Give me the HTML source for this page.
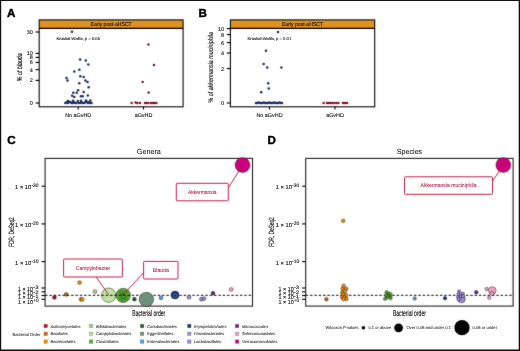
<!DOCTYPE html>
<html><head><meta charset="utf-8"><title>Figure</title>
<style>
html,body{margin:0;padding:0;background:#fff;}
body{width:520px;height:351px;overflow:hidden;font-family:"Liberation Sans",sans-serif;}
svg{display:block;font-family:"Liberation Sans",sans-serif;text-rendering:geometricPrecision;opacity:0.999;}
text{stroke:#222;stroke-width:0.12px}
.cr{stroke:#bd1f4a;stroke-width:0.08px}
.b{font-weight:bold;stroke:#000;stroke-width:0.45px}
.lg{stroke-width:0.05px}
.ax{stroke:#111;stroke-width:0.15px}
.ax2{stroke:#111;stroke-width:0.15px}
.i{font-style:italic}
</style></head><body>
<svg width="520" height="351" viewBox="0 0 520 351">
<defs><filter id="soft" color-interpolation-filters="sRGB" x="0" y="0" width="520" height="351" filterUnits="userSpaceOnUse"><feConvolveMatrix order="3" kernelMatrix="0.0100 0.0800 0.0100 0.0800 0.6400 0.0800 0.0100 0.0800 0.0100" divisor="1" edgeMode="duplicate" preserveAlpha="true"/></filter><filter id="txt" color-interpolation-filters="sRGB" x="0" y="0" width="520" height="351" filterUnits="userSpaceOnUse"><feConvolveMatrix order="3" kernelMatrix="0.0016 0.0368 0.0016 0.0368 0.8464 0.0368 0.0016 0.0368 0.0016" divisor="1" edgeMode="duplicate" preserveAlpha="true"/></filter></defs>
<rect x="0" y="0" width="520" height="351" fill="#fff"/>
<g filter="url(#soft)">
<rect x="0" y="0" width="520" height="351" fill="#fff"/>





<rect x="39.2" y="19.9" width="143.89999999999998" height="8.100000000000001" fill="#df9121"/>
<rect x="39.2" y="19.9" width="143.89999999999998" height="86.9" fill="none" stroke="#111" stroke-width="1.15"/>
<line x1="39.2" x2="183.1" y1="28.4" y2="28.4" stroke="#000" stroke-width="1.1"/>

<line x1="35.6" x2="39.2" y1="32" y2="32" stroke="#000" stroke-width="1.15"/>

<line x1="35.6" x2="39.2" y1="53.4" y2="53.4" stroke="#000" stroke-width="1.15"/>

<line x1="35.6" x2="39.2" y1="57.4" y2="57.4" stroke="#000" stroke-width="1.15"/>

<line x1="35.6" x2="39.2" y1="62.4" y2="62.4" stroke="#000" stroke-width="1.15"/>

<line x1="35.6" x2="39.2" y1="69.6" y2="69.6" stroke="#000" stroke-width="1.15"/>

<line x1="35.6" x2="39.2" y1="80.4" y2="80.4" stroke="#000" stroke-width="1.15"/>

<line x1="35.6" x2="39.2" y1="103" y2="103" stroke="#000" stroke-width="1.15"/>

<line x1="78.2" x2="78.2" y1="106.8" y2="109.6" stroke="#000" stroke-width="1.1"/>

<line x1="143.5" x2="143.5" y1="106.8" y2="109.6" stroke="#000" stroke-width="1.1"/>



<circle cx="72.0" cy="31.8" r="1.25" fill="#1d2b5e"/>
<circle cx="80.1" cy="59.4" r="1.25" fill="#1d2b5e"/>
<circle cx="85.8" cy="60.6" r="1.25" fill="#1d2b5e"/>
<circle cx="88.3" cy="64.5" r="1.25" fill="#1d2b5e"/>
<circle cx="79.4" cy="69.7" r="1.25" fill="#1d2b5e"/>
<circle cx="74.3" cy="71.4" r="1.25" fill="#1d2b5e"/>
<circle cx="80.3" cy="76.2" r="1.25" fill="#1d2b5e"/>
<circle cx="83.7" cy="77.0" r="1.25" fill="#1d2b5e"/>
<circle cx="66.5" cy="77.9" r="1.25" fill="#1d2b5e"/>
<circle cx="67.5" cy="80.4" r="1.25" fill="#1d2b5e"/>
<circle cx="85.4" cy="80.4" r="1.25" fill="#1d2b5e"/>
<circle cx="87.5" cy="82.0" r="1.25" fill="#1d2b5e"/>
<circle cx="79.3" cy="83.2" r="1.25" fill="#1d2b5e"/>
<circle cx="88.7" cy="87.3" r="1.25" fill="#1d2b5e"/>
<circle cx="78.1" cy="90.2" r="1.25" fill="#1d2b5e"/>
<circle cx="73.3" cy="92.7" r="1.25" fill="#1d2b5e"/>
<circle cx="76.7" cy="92.7" r="1.25" fill="#1d2b5e"/>
<circle cx="83.7" cy="92.0" r="1.25" fill="#1d2b5e"/>
<circle cx="72.1" cy="95.8" r="1.25" fill="#1d2b5e"/>
<circle cx="74.3" cy="97.0" r="1.25" fill="#1d2b5e"/>
<circle cx="81.0" cy="96.2" r="1.25" fill="#1d2b5e"/>
<circle cx="82.7" cy="96.2" r="1.25" fill="#1d2b5e"/>
<circle cx="87.8" cy="95.5" r="1.25" fill="#1d2b5e"/>
<circle cx="68.0" cy="101.0" r="1.25" fill="#1d2b5e"/>
<circle cx="73.0" cy="100.8" r="1.25" fill="#1d2b5e"/>
<circle cx="81.0" cy="100.8" r="1.25" fill="#1d2b5e"/>
<circle cx="86.0" cy="100.6" r="1.25" fill="#1d2b5e"/>
<circle cx="90.4" cy="100.6" r="1.25" fill="#1d2b5e"/>
<circle cx="65.3" cy="102.9" r="1.25" fill="#1d2b5e"/>
<circle cx="66.5" cy="102.2" r="1.25" fill="#1d2b5e"/>
<circle cx="67.8" cy="102.9" r="1.25" fill="#1d2b5e"/>
<circle cx="69.0" cy="101.7" r="1.25" fill="#1d2b5e"/>
<circle cx="70.3" cy="102.2" r="1.25" fill="#1d2b5e"/>
<circle cx="71.5" cy="102.9" r="1.25" fill="#1d2b5e"/>
<circle cx="72.8" cy="102.9" r="1.25" fill="#1d2b5e"/>
<circle cx="74.0" cy="102.2" r="1.25" fill="#1d2b5e"/>
<circle cx="75.3" cy="102.9" r="1.25" fill="#1d2b5e"/>
<circle cx="76.5" cy="102.9" r="1.25" fill="#1d2b5e"/>
<circle cx="77.8" cy="101.0" r="1.25" fill="#1d2b5e"/>
<circle cx="79.0" cy="102.9" r="1.25" fill="#1d2b5e"/>
<circle cx="80.3" cy="102.9" r="1.25" fill="#1d2b5e"/>
<circle cx="81.5" cy="102.2" r="1.25" fill="#1d2b5e"/>
<circle cx="82.8" cy="102.9" r="1.25" fill="#1d2b5e"/>
<circle cx="84.0" cy="102.9" r="1.25" fill="#1d2b5e"/>
<circle cx="85.3" cy="102.2" r="1.25" fill="#1d2b5e"/>
<circle cx="86.5" cy="101.7" r="1.25" fill="#1d2b5e"/>
<circle cx="87.8" cy="102.9" r="1.25" fill="#1d2b5e"/>
<circle cx="89.0" cy="102.2" r="1.25" fill="#1d2b5e"/>
<circle cx="90.3" cy="102.9" r="1.25" fill="#1d2b5e"/>
<circle cx="91.5" cy="102.9" r="1.25" fill="#1d2b5e"/>
<circle cx="148.4" cy="44.4" r="1.25" fill="#7b1522"/>
<circle cx="154.0" cy="65.0" r="1.25" fill="#7b1522"/>
<circle cx="142.6" cy="82.0" r="1.25" fill="#7b1522"/>
<circle cx="148.6" cy="92.4" r="1.25" fill="#7b1522"/>
<circle cx="131.6" cy="103.0" r="1.25" fill="#7b1522"/>
<circle cx="135.6" cy="102.4" r="1.25" fill="#7b1522"/>
<circle cx="137.4" cy="103.0" r="1.25" fill="#7b1522"/>
<circle cx="140.0" cy="103.0" r="1.25" fill="#7b1522"/>
<circle cx="145.0" cy="103.0" r="1.25" fill="#7b1522"/>
<circle cx="146.6" cy="103.0" r="1.25" fill="#7b1522"/>
<circle cx="148.4" cy="103.0" r="1.25" fill="#7b1522"/>
<circle cx="151.0" cy="103.0" r="1.25" fill="#7b1522"/>
<circle cx="153.0" cy="103.0" r="1.25" fill="#7b1522"/>
<circle cx="154.6" cy="103.0" r="1.25" fill="#7b1522"/>
<circle cx="156.4" cy="103.0" r="1.25" fill="#7b1522"/>
<rect x="230.4" y="19.9" width="144.29999999999998" height="8.100000000000001" fill="#df9121"/>
<rect x="230.4" y="19.9" width="144.29999999999998" height="86.9" fill="none" stroke="#111" stroke-width="1.15"/>
<line x1="230.4" x2="374.7" y1="28.4" y2="28.4" stroke="#000" stroke-width="1.1"/>

<line x1="226.8" x2="230.4" y1="28.6" y2="28.6" stroke="#000" stroke-width="1.15"/>

<line x1="226.8" x2="230.4" y1="34.6" y2="34.6" stroke="#000" stroke-width="1.15"/>

<line x1="226.8" x2="230.4" y1="42.6" y2="42.6" stroke="#000" stroke-width="1.15"/>

<line x1="226.8" x2="230.4" y1="53" y2="53" stroke="#000" stroke-width="1.15"/>

<line x1="226.8" x2="230.4" y1="68.6" y2="68.6" stroke="#000" stroke-width="1.15"/>

<line x1="226.8" x2="230.4" y1="103" y2="103" stroke="#000" stroke-width="1.15"/>

<line x1="269.5" x2="269.5" y1="106.8" y2="109.6" stroke="#000" stroke-width="1.1"/>

<line x1="335" x2="335" y1="106.8" y2="109.6" stroke="#000" stroke-width="1.1"/>



<circle cx="278.0" cy="32.0" r="1.25" fill="#1d2b5e"/>
<circle cx="266.0" cy="50.8" r="1.25" fill="#1d2b5e"/>
<circle cx="263.6" cy="64.0" r="1.25" fill="#1d2b5e"/>
<circle cx="267.2" cy="67.4" r="1.25" fill="#1d2b5e"/>
<circle cx="281.4" cy="67.4" r="1.25" fill="#1d2b5e"/>
<circle cx="268.2" cy="83.2" r="1.25" fill="#1d2b5e"/>
<circle cx="268.8" cy="88.4" r="1.25" fill="#1d2b5e"/>
<circle cx="261.2" cy="92.2" r="1.25" fill="#1d2b5e"/>
<circle cx="256.0" cy="103.0" r="1.25" fill="#1d2b5e"/>
<circle cx="257.3" cy="103.0" r="1.25" fill="#1d2b5e"/>
<circle cx="258.6" cy="102.4" r="1.25" fill="#1d2b5e"/>
<circle cx="259.9" cy="103.0" r="1.25" fill="#1d2b5e"/>
<circle cx="261.2" cy="103.0" r="1.25" fill="#1d2b5e"/>
<circle cx="262.5" cy="103.0" r="1.25" fill="#1d2b5e"/>
<circle cx="263.8" cy="102.4" r="1.25" fill="#1d2b5e"/>
<circle cx="265.1" cy="103.0" r="1.25" fill="#1d2b5e"/>
<circle cx="266.4" cy="103.0" r="1.25" fill="#1d2b5e"/>
<circle cx="267.7" cy="103.0" r="1.25" fill="#1d2b5e"/>
<circle cx="269.0" cy="102.4" r="1.25" fill="#1d2b5e"/>
<circle cx="270.3" cy="103.0" r="1.25" fill="#1d2b5e"/>
<circle cx="271.6" cy="103.0" r="1.25" fill="#1d2b5e"/>
<circle cx="272.9" cy="103.0" r="1.25" fill="#1d2b5e"/>
<circle cx="274.2" cy="102.4" r="1.25" fill="#1d2b5e"/>
<circle cx="275.5" cy="103.0" r="1.25" fill="#1d2b5e"/>
<circle cx="276.8" cy="103.0" r="1.25" fill="#1d2b5e"/>
<circle cx="278.1" cy="103.0" r="1.25" fill="#1d2b5e"/>
<circle cx="279.4" cy="102.4" r="1.25" fill="#1d2b5e"/>
<circle cx="280.7" cy="103.0" r="1.25" fill="#1d2b5e"/>
<circle cx="282.0" cy="103.0" r="1.25" fill="#1d2b5e"/>
<circle cx="323.6" cy="103.0" r="1.25" fill="#7b1522"/>
<circle cx="327.0" cy="103.0" r="1.25" fill="#7b1522"/>
<circle cx="329.0" cy="103.0" r="1.25" fill="#7b1522"/>
<circle cx="330.6" cy="103.0" r="1.25" fill="#7b1522"/>
<circle cx="332.4" cy="103.0" r="1.25" fill="#7b1522"/>
<circle cx="334.4" cy="103.0" r="1.25" fill="#7b1522"/>
<circle cx="336.4" cy="103.0" r="1.25" fill="#7b1522"/>
<circle cx="338.4" cy="103.0" r="1.25" fill="#7b1522"/>
<circle cx="343.0" cy="103.0" r="1.25" fill="#7b1522"/>
<circle cx="345.0" cy="103.0" r="1.25" fill="#7b1522"/>
<circle cx="347.0" cy="103.0" r="1.25" fill="#7b1522"/>
<clipPath id="cpC"><rect x="45.1" y="150" width="215.4" height="156"/></clipPath>

<line x1="41.5" x2="45.1" y1="186.2" y2="186.2" stroke="#000" stroke-width="1.15"/>


<line x1="41.5" x2="45.1" y1="223.9" y2="223.9" stroke="#000" stroke-width="1.15"/>


<line x1="41.5" x2="45.1" y1="261.6" y2="261.6" stroke="#000" stroke-width="1.15"/>


<line x1="41.5" x2="45.1" y1="288.0" y2="288.0" stroke="#000" stroke-width="1.15"/>


<line x1="41.5" x2="45.1" y1="291.8" y2="291.8" stroke="#000" stroke-width="1.15"/>


<line x1="41.5" x2="45.1" y1="295.5" y2="295.5" stroke="#000" stroke-width="1.15"/>


<line x1="41.5" x2="45.1" y1="299.3" y2="299.3" stroke="#000" stroke-width="1.15"/>




<rect x="45.1" y="158.4" width="207.4" height="147.7" fill="none" stroke="#222" stroke-width="1.1"/>
<circle cx="54.4" cy="297.4" r="1.9" fill="#b2182b" stroke="rgba(0,0,0,0.8)" stroke-width="0.5"/>
<circle cx="66.2" cy="294.4" r="1.9" fill="#c86a12" stroke="rgba(0,0,0,0.8)" stroke-width="0.5"/>
<circle cx="79.6" cy="282.6" r="1.9" fill="#f4900c" stroke="rgba(0,0,0,0.8)" stroke-width="0.5"/>
<circle cx="81.1" cy="299.3" r="1.9" fill="#f4900c" stroke="rgba(0,0,0,0.8)" stroke-width="0.5"/>
<circle cx="82.2" cy="299.5" r="1.9" fill="#f4900c" stroke="rgba(0,0,0,0.8)" stroke-width="0.5"/>
<circle cx="95.0" cy="291.6" r="1.9" fill="#b6cf86" stroke="rgba(0,0,0,0.8)" stroke-width="0.5"/>
<circle cx="108.7" cy="295.2" r="7.2" fill="#c1e0a3" stroke="rgba(0,0,0,0.8)" stroke-width="0.5"/>
<circle cx="123.2" cy="295.4" r="7.2" fill="#58ad38" stroke="rgba(0,0,0,0.8)" stroke-width="0.5"/>
<circle cx="121.0" cy="292.3" r="1.6" fill="none" stroke="#1c4f0e" stroke-width="0.45"/>
<circle cx="125.3" cy="292.2" r="1.6" fill="none" stroke="#1c4f0e" stroke-width="0.45"/>
<circle cx="123.4" cy="296.4" r="2.2" fill="none" stroke="#1c4f0e" stroke-width="0.45"/>
<circle cx="120.5" cy="298.2" r="1.5" fill="none" stroke="#1c4f0e" stroke-width="0.45"/>
<circle cx="123.2" cy="299.6" r="1.6" fill="none" stroke="#1c4f0e" stroke-width="0.45"/>
<circle cx="126.0" cy="298.2" r="1.5" fill="none" stroke="#1c4f0e" stroke-width="0.45"/>
<circle cx="122.4" cy="294.4" r="1.1" fill="none" stroke="#1c4f0e" stroke-width="0.45"/>
<line x1="45.1" x2="252.5" y1="295.3" y2="295.3" stroke="#000" stroke-width="0.95" stroke-dasharray="2.5 1.83"/>
<circle cx="134.4" cy="299.2" r="1.9" fill="#1f5d3b" stroke="rgba(0,0,0,0.8)" stroke-width="0.5"/>
<circle cx="146.4" cy="299.4" r="7.2" fill="#6d917a" stroke="rgba(0,0,0,0.8)" stroke-width="0.5"/>
<circle cx="161.0" cy="297.8" r="1.9" fill="#4fa0e2" stroke="rgba(0,0,0,0.8)" stroke-width="0.5"/>
<circle cx="175.0" cy="295.0" r="4" fill="#1c3b7c" stroke="rgba(0,0,0,0.8)" stroke-width="0.5"/>
<circle cx="175.0" cy="295.6" r="2" fill="none" stroke="#5d7cc0" stroke-width="0.5"/>
<circle cx="189.0" cy="297.3" r="1.9" fill="#9b9bd1" stroke="rgba(0,0,0,0.8)" stroke-width="0.5"/>
<circle cx="201.4" cy="299.2" r="1.9" fill="#9c8ad9" stroke="rgba(0,0,0,0.8)" stroke-width="0.5"/>
<circle cx="204.0" cy="298.6" r="1.9" fill="#9c8ad9" stroke="rgba(0,0,0,0.8)" stroke-width="0.5"/>
<circle cx="213.0" cy="293.2" r="1.9" fill="#6b2b7b" stroke="rgba(0,0,0,0.8)" stroke-width="0.5"/>
<circle cx="231.2" cy="289.4" r="1.9" fill="#f2a2ca" stroke="rgba(0,0,0,0.8)" stroke-width="0.5"/>
<circle cx="242.5" cy="165.0" r="7.5" fill="#c9007c" stroke="rgba(0,0,0,0.8)" stroke-width="0.4"/>
<line x1="228.3" y1="188" x2="242.5" y2="165" stroke="#b81a45" stroke-width="0.95"/>
<rect x="176.3" y="183.3" width="52.0" height="17.5" rx="0.8" fill="#fff" stroke="#bd1f4a" stroke-width="1.0"/>

<line x1="96" y1="277" x2="108.6" y2="294.6" stroke="#b81a45" stroke-width="0.95"/>
<rect x="63.6" y="259" width="58.800000000000004" height="18" rx="0.8" fill="#fff" stroke="#bd1f4a" stroke-width="1.0"/>

<line x1="143.6" y1="272.6" x2="123" y2="295" stroke="#b81a45" stroke-width="0.95"/>
<rect x="143.6" y="261.4" width="34.400000000000006" height="17.600000000000023" rx="0.8" fill="#fff" stroke="#bd1f4a" stroke-width="1.0"/>

<clipPath id="cpD"><rect x="305.7" y="150" width="215.40000000000003" height="156"/></clipPath>

<line x1="302.09999999999997" x2="305.7" y1="186.2" y2="186.2" stroke="#000" stroke-width="1.15"/>


<line x1="302.09999999999997" x2="305.7" y1="223.9" y2="223.9" stroke="#000" stroke-width="1.15"/>


<line x1="302.09999999999997" x2="305.7" y1="261.6" y2="261.6" stroke="#000" stroke-width="1.15"/>


<line x1="302.09999999999997" x2="305.7" y1="288.0" y2="288.0" stroke="#000" stroke-width="1.15"/>


<line x1="302.09999999999997" x2="305.7" y1="291.8" y2="291.8" stroke="#000" stroke-width="1.15"/>


<line x1="302.09999999999997" x2="305.7" y1="295.5" y2="295.5" stroke="#000" stroke-width="1.15"/>


<line x1="302.09999999999997" x2="305.7" y1="299.3" y2="299.3" stroke="#000" stroke-width="1.15"/>




<rect x="305.7" y="158.4" width="207.40000000000003" height="147.7" fill="none" stroke="#222" stroke-width="1.1"/>
<line x1="305.7" x2="513.1" y1="295.3" y2="295.3" stroke="#000" stroke-width="0.95" stroke-dasharray="2.5 1.83"/>
<circle cx="343.2" cy="220.8" r="1.8" fill="#f4900c" stroke="rgba(0,0,0,0.8)" stroke-width="0.5"/>
<circle cx="326.4" cy="299.2" r="1.8" fill="#c86a12" stroke="rgba(0,0,0,0.8)" stroke-width="0.5"/>
<circle cx="343.6" cy="285.8" r="1.8" fill="#f4900c" stroke="rgba(0,0,0,0.8)" stroke-width="0.5"/>
<circle cx="342.5" cy="288.8" r="1.8" fill="#f4900c" stroke="rgba(0,0,0,0.8)" stroke-width="0.5"/>
<circle cx="346.3" cy="288.8" r="1.8" fill="#f4900c" stroke="rgba(0,0,0,0.8)" stroke-width="0.5"/>
<circle cx="344.8" cy="291.0" r="1.8" fill="#f4900c" stroke="rgba(0,0,0,0.8)" stroke-width="0.5"/>
<circle cx="342.2" cy="292.5" r="1.8" fill="#f4900c" stroke="rgba(0,0,0,0.8)" stroke-width="0.5"/>
<circle cx="343.0" cy="294.8" r="1.8" fill="#f4900c" stroke="rgba(0,0,0,0.8)" stroke-width="0.5"/>
<circle cx="346.2" cy="295.0" r="1.8" fill="#f4900c" stroke="rgba(0,0,0,0.8)" stroke-width="0.5"/>
<circle cx="342.2" cy="297.2" r="1.8" fill="#f4900c" stroke="rgba(0,0,0,0.8)" stroke-width="0.5"/>
<circle cx="344.5" cy="297.5" r="1.8" fill="#f4900c" stroke="rgba(0,0,0,0.8)" stroke-width="0.5"/>
<circle cx="346.5" cy="299.0" r="1.8" fill="#f4900c" stroke="rgba(0,0,0,0.8)" stroke-width="0.5"/>
<circle cx="343.5" cy="299.2" r="1.8" fill="#f4900c" stroke="rgba(0,0,0,0.8)" stroke-width="0.5"/>
<circle cx="386.5" cy="292.2" r="1.6" fill="#58ad38" stroke="rgba(0,0,0,0.8)" stroke-width="0.5"/>
<circle cx="388.8" cy="293.5" r="1.6" fill="#58ad38" stroke="rgba(0,0,0,0.8)" stroke-width="0.5"/>
<circle cx="390.5" cy="294.0" r="1.6" fill="#58ad38" stroke="rgba(0,0,0,0.8)" stroke-width="0.5"/>
<circle cx="386.0" cy="295.2" r="1.6" fill="#58ad38" stroke="rgba(0,0,0,0.8)" stroke-width="0.5"/>
<circle cx="388.5" cy="296.0" r="1.6" fill="#58ad38" stroke="rgba(0,0,0,0.8)" stroke-width="0.5"/>
<circle cx="390.5" cy="297.0" r="1.6" fill="#58ad38" stroke="rgba(0,0,0,0.8)" stroke-width="0.5"/>
<circle cx="387.0" cy="297.5" r="1.6" fill="#58ad38" stroke="rgba(0,0,0,0.8)" stroke-width="0.5"/>
<circle cx="385.0" cy="298.8" r="1.6" fill="#58ad38" stroke="rgba(0,0,0,0.8)" stroke-width="0.5"/>
<circle cx="390.5" cy="298.2" r="1.6" fill="#58ad38" stroke="rgba(0,0,0,0.8)" stroke-width="0.5"/>
<circle cx="414.7" cy="298.5" r="1.7" fill="#4fa0e2" stroke="rgba(0,0,0,0.8)" stroke-width="0.5"/>
<circle cx="445.0" cy="298.2" r="1.7" fill="#1c3b7c" stroke="rgba(0,0,0,0.8)" stroke-width="0.5"/>
<circle cx="461.5" cy="299.0" r="3.8" fill="#9c8ad9" stroke="rgba(0,0,0,0.8)" stroke-width="0.5"/>
<circle cx="459.2" cy="291.5" r="1.7" fill="#9c8ad9" stroke="rgba(0,0,0,0.8)" stroke-width="0.5"/>
<circle cx="462.8" cy="293.8" r="1.7" fill="#9c8ad9" stroke="rgba(0,0,0,0.8)" stroke-width="0.5"/>
<circle cx="458.5" cy="294.3" r="1.7" fill="#9c8ad9" stroke="rgba(0,0,0,0.8)" stroke-width="0.5"/>
<circle cx="458.2" cy="297.0" r="1.7" fill="#9c8ad9" stroke="rgba(0,0,0,0.8)" stroke-width="0.5"/>
<circle cx="460.8" cy="296.2" r="1.7" fill="#9c8ad9" stroke="rgba(0,0,0,0.8)" stroke-width="0.5"/>
<circle cx="463.0" cy="296.2" r="1.7" fill="#9c8ad9" stroke="rgba(0,0,0,0.8)" stroke-width="0.5"/>
<circle cx="458.5" cy="299.2" r="1.7" fill="#9c8ad9" stroke="rgba(0,0,0,0.8)" stroke-width="0.5"/>
<circle cx="476.3" cy="292.3" r="1.8" fill="#6b2b7b" stroke="rgba(0,0,0,0.8)" stroke-width="0.5"/>
<circle cx="492.3" cy="290.5" r="3.8" fill="#f2a2ca" stroke="rgba(0,0,0,0.8)" stroke-width="0.5"/>
<circle cx="486.6" cy="289.0" r="1.7" fill="#f2a2ca" stroke="rgba(0,0,0,0.8)" stroke-width="0.5"/>
<circle cx="492.0" cy="293.4" r="2" fill="#f2a2ca" stroke="rgba(0,0,0,0.8)" stroke-width="0.5"/>
<circle cx="489.2" cy="297.7" r="1.7" fill="#f2a2ca" stroke="rgba(0,0,0,0.8)" stroke-width="0.5"/>
<circle cx="503.3" cy="165.0" r="7.5" fill="#c9007c" stroke="rgba(0,0,0,0.8)" stroke-width="0.4"/>
<line x1="492.5" y1="181.3" x2="503.3" y2="165" stroke="#b81a45" stroke-width="0.95"/>
<rect x="404.5" y="176.8" width="88.0" height="17.5" rx="0.8" fill="#fff" stroke="#bd1f4a" stroke-width="1.0"/>


<rect x="44" y="324.3" width="3.4" height="3.4" fill="#b2182b" stroke="rgba(0,0,0,0.45)" stroke-width="0.45"/>

<rect x="44" y="332.1" width="3.4" height="3.4" fill="#c86a12" stroke="rgba(0,0,0,0.45)" stroke-width="0.45"/>

<rect x="44" y="339.90000000000003" width="3.4" height="3.4" fill="#f4900c" stroke="rgba(0,0,0,0.45)" stroke-width="0.45"/>

<rect x="89.4" y="324.3" width="3.4" height="3.4" fill="#b6cf86" stroke="rgba(0,0,0,0.45)" stroke-width="0.45"/>

<rect x="89.4" y="332.1" width="3.4" height="3.4" fill="#c1e0a3" stroke="rgba(0,0,0,0.45)" stroke-width="0.45"/>

<rect x="89.4" y="339.90000000000003" width="3.4" height="3.4" fill="#58ad38" stroke="rgba(0,0,0,0.45)" stroke-width="0.45"/>

<rect x="140.4" y="324.3" width="3.4" height="3.4" fill="#1f5d3b" stroke="rgba(0,0,0,0.45)" stroke-width="0.45"/>

<rect x="140.4" y="332.1" width="3.4" height="3.4" fill="#6d917a" stroke="rgba(0,0,0,0.45)" stroke-width="0.45"/>

<rect x="140.4" y="339.90000000000003" width="3.4" height="3.4" fill="#4fa0e2" stroke="rgba(0,0,0,0.45)" stroke-width="0.45"/>

<rect x="187.6" y="324.3" width="3.4" height="3.4" fill="#1c3b7c" stroke="rgba(0,0,0,0.45)" stroke-width="0.45"/>

<rect x="187.6" y="332.1" width="3.4" height="3.4" fill="#9b9bd1" stroke="rgba(0,0,0,0.45)" stroke-width="0.45"/>

<rect x="187.6" y="339.90000000000003" width="3.4" height="3.4" fill="#9c8ad9" stroke="rgba(0,0,0,0.45)" stroke-width="0.45"/>

<rect x="235.4" y="324.3" width="3.4" height="3.4" fill="#6b2b7b" stroke="rgba(0,0,0,0.45)" stroke-width="0.45"/>

<rect x="235.4" y="332.1" width="3.4" height="3.4" fill="#f2a2ca" stroke="rgba(0,0,0,0.45)" stroke-width="0.45"/>

<rect x="235.4" y="339.90000000000003" width="3.4" height="3.4" fill="#c9007c" stroke="rgba(0,0,0,0.45)" stroke-width="0.45"/>


<circle cx="363.4" cy="327.8" r="1.8" fill="#000"/>

<circle cx="398.6" cy="327.8" r="4.4" fill="#000"/>

<circle cx="462" cy="327.7" r="7.6" fill="#000"/>

</g>
<g filter="url(#txt)">
<g transform="translate(21.6,67.3) rotate(-90) scale(0.76,1)"><text x="0" y="0" font-size="7" text-anchor="middle" class="ax" fill="#111">% of <tspan class="i">blautia</tspan></text></g>
<g transform="translate(213,67.3) rotate(-90) scale(0.76,1)"><text x="0" y="0" font-size="7" text-anchor="middle" class="ax" fill="#111">% of <tspan class="i">akkermansia muciniphila</tspan></text></g>
<g transform="translate(13.5,232) rotate(-90) scale(0.62,1)"><text x="0" y="0" font-size="7.6" text-anchor="middle" class="ax" fill="#111">FDR, DeSeq2</text></g>
<g transform="translate(148.8,316.2) scale(0.62,1)"><text x="0" y="0" font-size="8.2" text-anchor="middle" class="ax2" fill="#111">Bacterial order</text></g>
<g transform="translate(274.09999999999997,232) rotate(-90) scale(0.62,1)"><text x="0" y="0" font-size="7.6" text-anchor="middle" class="ax" fill="#111">FDR, DeSeq2</text></g>
<g transform="translate(409.4,316.2) scale(0.62,1)"><text x="0" y="0" font-size="8.2" text-anchor="middle" class="ax2" fill="#111">Bacterial order</text></g>
<text x="7" y="16.9" font-size="11.6" class="b" fill="#000">A</text>
<text x="198.6" y="16.9" font-size="11.6" class="b" fill="#000">B</text>
<text x="7.2" y="143.7" font-size="11.6" class="b" fill="#000">C</text>
<text x="267.6" y="143.7" font-size="11.6" class="b" fill="#000">D</text>
<text x="111.15" y="26" font-size="5.6" text-anchor="middle" textLength="41.2" lengthAdjust="spacingAndGlyphs" fill="#111">Early post-aHSCT</text>
<text x="32.800000000000004" y="34.0" font-size="5.5" text-anchor="end" fill="#222">30</text>
<text x="32.800000000000004" y="55.4" font-size="5.5" text-anchor="end" fill="#222">10</text>
<text x="32.800000000000004" y="59.4" font-size="5.5" text-anchor="end" fill="#222">8</text>
<text x="32.800000000000004" y="64.4" font-size="5.5" text-anchor="end" fill="#222">6</text>
<text x="32.800000000000004" y="71.6" font-size="5.5" text-anchor="end" fill="#222">4</text>
<text x="32.800000000000004" y="82.4" font-size="5.5" text-anchor="end" fill="#222">2</text>
<text x="32.800000000000004" y="105.0" font-size="5.5" text-anchor="end" fill="#222">0</text>
<text x="78.2" y="117.4" font-size="5.4" text-anchor="middle" fill="#222">No aGvHD</text>
<text x="143.5" y="117.4" font-size="5.4" text-anchor="middle" fill="#222">aGvHD</text>
<text x="56.4" y="39.9" font-size="4.1" textLength="43.6" lengthAdjust="spacingAndGlyphs" fill="#222">Kruskal-Wallis, p = 0.05</text>
<text x="302.55" y="26" font-size="5.6" text-anchor="middle" textLength="41.2" lengthAdjust="spacingAndGlyphs" fill="#111">Early post-aHSCT</text>
<text x="224.0" y="30.6" font-size="5.5" text-anchor="end" fill="#222">10</text>
<text x="224.0" y="36.6" font-size="5.5" text-anchor="end" fill="#222">8</text>
<text x="224.0" y="44.6" font-size="5.5" text-anchor="end" fill="#222">6</text>
<text x="224.0" y="55.0" font-size="5.5" text-anchor="end" fill="#222">4</text>
<text x="224.0" y="70.6" font-size="5.5" text-anchor="end" fill="#222">2</text>
<text x="224.0" y="105.0" font-size="5.5" text-anchor="end" fill="#222">0</text>
<text x="269.5" y="117.4" font-size="5.4" text-anchor="middle" fill="#222">No aGvHD</text>
<text x="335" y="117.4" font-size="5.4" text-anchor="middle" fill="#222">aGvHD</text>
<text x="247.6" y="39.9" font-size="4.1" textLength="43.6" lengthAdjust="spacingAndGlyphs" fill="#222">Kruskal-Wallis, p = 0.01</text>
<text x="136.8" y="153.8" font-size="7.4" textLength="24" lengthAdjust="spacingAndGlyphs" class="lg" fill="#111">Genera</text>
<text x="31.3" y="189.2" font-size="5.6" text-anchor="end" textLength="16.2" lengthAdjust="spacingAndGlyphs" fill="#222">1 &#215; 10</text>
<text x="31.400000000000002" y="187.4" font-size="4.9" textLength="7.2" lengthAdjust="spacingAndGlyphs" fill="#222">-30</text>
<text x="31.3" y="226.9" font-size="5.6" text-anchor="end" textLength="16.2" lengthAdjust="spacingAndGlyphs" fill="#222">1 &#215; 10</text>
<text x="31.400000000000002" y="225.1" font-size="4.9" textLength="7.2" lengthAdjust="spacingAndGlyphs" fill="#222">-20</text>
<text x="31.3" y="264.6" font-size="5.6" text-anchor="end" textLength="16.2" lengthAdjust="spacingAndGlyphs" fill="#222">1 &#215; 10</text>
<text x="31.400000000000002" y="262.8" font-size="4.9" textLength="7.2" lengthAdjust="spacingAndGlyphs" fill="#222">-10</text>
<text x="33.1" y="291.1" font-size="5.6" text-anchor="end" textLength="15.2" lengthAdjust="spacingAndGlyphs" fill="#222">1 &#215; 10</text>
<text x="33.2" y="289.3" font-size="4.9" textLength="5.4" lengthAdjust="spacingAndGlyphs" fill="#222">-3</text>
<text x="33.1" y="295.4" font-size="5.6" text-anchor="end" textLength="15.2" lengthAdjust="spacingAndGlyphs" fill="#222">1 &#215; 10</text>
<text x="33.2" y="293.6" font-size="4.9" textLength="5.4" lengthAdjust="spacingAndGlyphs" fill="#222">-2</text>
<text x="33.1" y="299.4" font-size="5.6" text-anchor="end" textLength="15.2" lengthAdjust="spacingAndGlyphs" fill="#222">1 &#215; 10</text>
<text x="33.2" y="297.6" font-size="4.9" textLength="5.4" lengthAdjust="spacingAndGlyphs" fill="#222">-1</text>
<text x="33.1" y="304.2" font-size="5.6" text-anchor="end" textLength="15.2" lengthAdjust="spacingAndGlyphs" fill="#222">1 &#215; 10</text>
<text x="33.2" y="302.4" font-size="4.9" textLength="5.4" lengthAdjust="spacingAndGlyphs" fill="#222">+0</text>
<text x="202.3" y="193.75" font-size="5.4" text-anchor="middle" textLength="28.5" lengthAdjust="spacingAndGlyphs" class="cr" fill="#bd1f4a">Akkermansia</text>
<text x="93.0" y="269.7" font-size="5.4" text-anchor="middle" textLength="34.6" lengthAdjust="spacingAndGlyphs" class="cr" fill="#bd1f4a">Campylobacter</text>
<text x="160.8" y="271.9" font-size="5.4" text-anchor="middle" textLength="16" lengthAdjust="spacingAndGlyphs" class="cr" fill="#bd1f4a">Blautia</text>
<text x="396.8" y="153.8" font-size="7.4" textLength="25.4" lengthAdjust="spacingAndGlyphs" class="lg" fill="#111">Species</text>
<text x="291.9" y="189.2" font-size="5.6" text-anchor="end" textLength="16.2" lengthAdjust="spacingAndGlyphs" fill="#222">1 &#215; 10</text>
<text x="292.0" y="187.4" font-size="4.9" textLength="7.2" lengthAdjust="spacingAndGlyphs" fill="#222">-30</text>
<text x="291.9" y="226.9" font-size="5.6" text-anchor="end" textLength="16.2" lengthAdjust="spacingAndGlyphs" fill="#222">1 &#215; 10</text>
<text x="292.0" y="225.1" font-size="4.9" textLength="7.2" lengthAdjust="spacingAndGlyphs" fill="#222">-20</text>
<text x="291.9" y="264.6" font-size="5.6" text-anchor="end" textLength="16.2" lengthAdjust="spacingAndGlyphs" fill="#222">1 &#215; 10</text>
<text x="292.0" y="262.8" font-size="4.9" textLength="7.2" lengthAdjust="spacingAndGlyphs" fill="#222">-10</text>
<text x="293.7" y="291.1" font-size="5.6" text-anchor="end" textLength="15.2" lengthAdjust="spacingAndGlyphs" fill="#222">1 &#215; 10</text>
<text x="293.8" y="289.3" font-size="4.9" textLength="5.4" lengthAdjust="spacingAndGlyphs" fill="#222">-3</text>
<text x="293.7" y="295.4" font-size="5.6" text-anchor="end" textLength="15.2" lengthAdjust="spacingAndGlyphs" fill="#222">1 &#215; 10</text>
<text x="293.8" y="293.6" font-size="4.9" textLength="5.4" lengthAdjust="spacingAndGlyphs" fill="#222">-2</text>
<text x="293.7" y="299.4" font-size="5.6" text-anchor="end" textLength="15.2" lengthAdjust="spacingAndGlyphs" fill="#222">1 &#215; 10</text>
<text x="293.8" y="297.6" font-size="4.9" textLength="5.4" lengthAdjust="spacingAndGlyphs" fill="#222">-1</text>
<text x="293.7" y="304.2" font-size="5.6" text-anchor="end" textLength="15.2" lengthAdjust="spacingAndGlyphs" fill="#222">1 &#215; 10</text>
<text x="293.8" y="302.4" font-size="4.9" textLength="5.4" lengthAdjust="spacingAndGlyphs" fill="#222">+0</text>
<text x="448.5" y="187.25" font-size="5.4" text-anchor="middle" textLength="56" lengthAdjust="spacingAndGlyphs" class="cr" fill="#bd1f4a">Akkermansia muciniphila</text>
<text x="12.4" y="335.5" font-size="4.3" textLength="28.2" lengthAdjust="spacingAndGlyphs" class="lg" fill="#222">Bacterial Order</text>
<text x="50.4" y="327.5" font-size="4.15" class="i lg" fill="#222">Actinomycetales</text>
<text x="50.4" y="335.3" font-size="4.15" class="i lg" fill="#222">Bacillales</text>
<text x="50.4" y="343.1" font-size="4.15" class="i lg" fill="#222">Bacteroidales</text>
<text x="96" y="327.5" font-size="4.15" class="i lg" fill="#222">Bifidobacteriales</text>
<text x="96" y="335.3" font-size="4.15" class="i lg" fill="#222">Campylobacterales</text>
<text x="96" y="343.1" font-size="4.15" class="i lg" fill="#222">Clostridiales</text>
<text x="147" y="327.5" font-size="4.15" class="i lg" fill="#222">Coriobacteriales</text>
<text x="147" y="335.3" font-size="4.15" class="i lg" fill="#222">Eggerthellales</text>
<text x="147" y="343.1" font-size="4.15" class="i lg" fill="#222">Enterobacteriales</text>
<text x="194" y="327.5" font-size="4.15" class="i lg" fill="#222">Erysipelotrichales</text>
<text x="194" y="335.3" font-size="4.15" class="i lg" fill="#222">Flavobacteriales</text>
<text x="194" y="343.1" font-size="4.15" class="i lg" fill="#222">Lactobacillales</text>
<text x="242" y="327.5" font-size="4.15" class="i lg" fill="#222">Micrococcales</text>
<text x="242" y="335.3" font-size="4.15" class="i lg" fill="#222">Selenomonadales</text>
<text x="242" y="343.1" font-size="4.15" class="i lg" fill="#222">Verrucomicrobiales</text>
<text x="325.6" y="329.3" font-size="4.3" textLength="33" lengthAdjust="spacingAndGlyphs" class="lg" fill="#222">Wilcoxon P-values</text>
<text x="368.4" y="329.3" font-size="4.3" textLength="22.6" lengthAdjust="spacingAndGlyphs" class="lg" fill="#222">0.1 or above</text>
<text x="406.4" y="329.3" font-size="4.3" textLength="44.6" lengthAdjust="spacingAndGlyphs" class="lg" fill="#222">Over 0.05 and under 0.1</text>
<text x="472.6" y="329.3" font-size="4.3" textLength="24.4" lengthAdjust="spacingAndGlyphs" class="lg" fill="#222">0.05 or under</text>
</g>
<rect x="0" y="0" width="520" height="1" fill="#111"/>
<rect x="0" y="0" width="1.2" height="351" fill="#111"/>
<rect x="518.7" y="0" width="1.3" height="351" fill="#111"/>
<rect x="0" y="349.5" width="520" height="1.5" fill="#111"/>
</svg></body></html>
